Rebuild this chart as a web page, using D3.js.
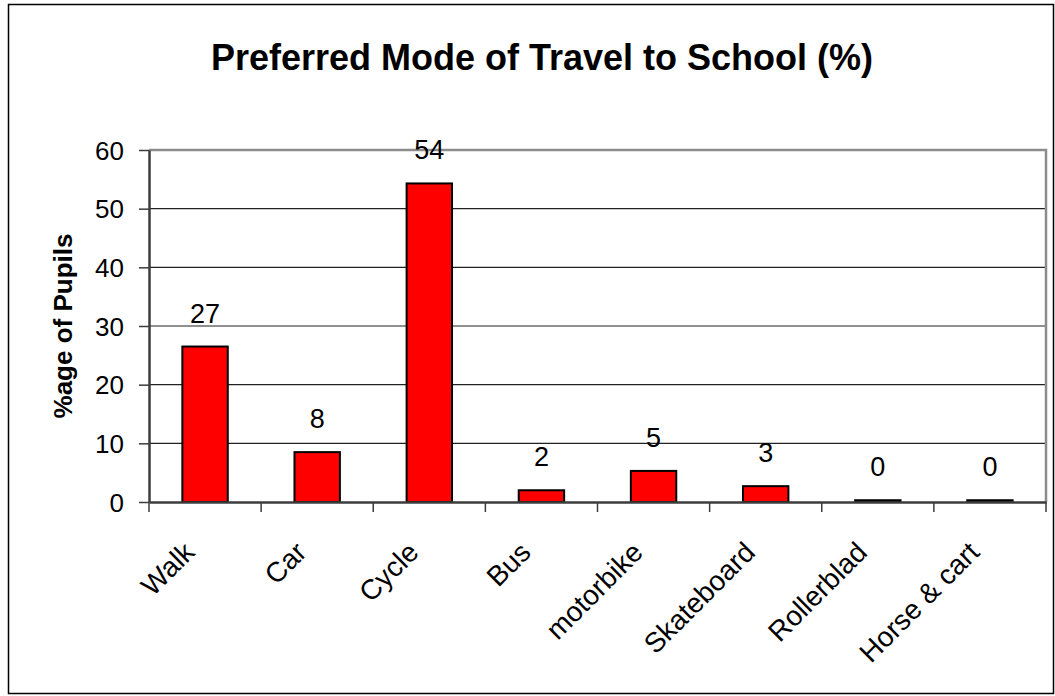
<!DOCTYPE html>
<html>
<head>
<meta charset="utf-8">
<script src="https://cdn.jsdelivr.net/npm/d3@7"></script>
<style>
  body { margin: 0; background: #fff; }
  text { font-family: "Liberation Sans", Arial, sans-serif; fill: #000; }
</style>
</head>
<body>
<script>
const w = 1055;
const h = 696;

const modes = ["Walk", "Car", "Cycle", "Bus", "motorbike", "Skateboard", "Rollerblad", "Horse & cart"];
const pupils = [26.5, 8.5, 54.3, 2, 5.3, 2.7, 0.3, 0.3];
const labels = ["27", "8", "54", "2", "5", "3", "0", "0"];
const yTicks = [0, 10, 20, 30, 40, 50, 60];

const plot = { left: 149, right: 1046, top: 150, bottom: 502 };

const svg = d3.select("body").append("svg")
  .attr("width", w)
  .attr("height", h);

// outer frame
svg.append("rect")
  .attr("x", 8.5).attr("y", 4.5)
  .attr("width", w - 10).attr("height", h - 7)
  .attr("fill", "#fff")
  .attr("stroke", "#000")
  .attr("stroke-width", 1.5);

const x = d3.scaleBand().domain(modes).range([plot.left, plot.right]).padding(0);
const y = d3.scaleLinear().domain([0, 60]).range([plot.bottom, plot.top]);

// gridlines
svg.append("g")
  .selectAll("line")
  .data(yTicks.filter(d => d > 0 && d < 60))
  .enter()
  .append("line")
  .attr("x1", plot.left).attr("x2", plot.right)
  .attr("y1", d => y(d)).attr("y2", d => y(d))
  .attr("stroke", "#222")
  .attr("stroke-width", 1.2);

// plot area top and right edge
svg.append("path")
  .attr("d", `M${plot.left},${y(60)}H${plot.right}V${plot.bottom}`)
  .attr("fill", "none")
  .attr("stroke", "#8c8c8c")
  .attr("stroke-width", 2.5);

// bars
const barW = x.bandwidth() * 0.405;
svg.append("g")
  .selectAll("rect")
  .data(pupils)
  .enter()
  .append("rect")
  .attr("x", (d, i) => x(modes[i]) + (x.bandwidth() - barW) / 2)
  .attr("y", d => y(d))
  .attr("width", barW)
  .attr("height", d => y(0) - y(d))
  .attr("fill", "#ff0000")
  .attr("stroke", "#000")
  .attr("stroke-width", 2);

// data labels
svg.append("g")
  .selectAll("text")
  .data(labels)
  .enter()
  .append("text")
  .attr("x", (d, i) => x(modes[i]) + x.bandwidth() / 2)
  .attr("y", (d, i) => y(pupils[i]) - 24)
  .attr("text-anchor", "middle")
  .style("font-size", "27px")
  .text(d => d);

// y axis
const yAxis = svg.append("g")
  .attr("transform", "translate(" + plot.left + ",0)")
  .call(d3.axisLeft(y).tickValues(yTicks).tickSize(10).tickSizeOuter(0).tickFormat(d3.format("d")));
yAxis.select(".domain").attr("stroke", "#3c3c3c").attr("stroke-width", 2.5);
yAxis.selectAll(".tick line").attr("stroke", "#3c3c3c").attr("stroke-width", 1.5);
yAxis.selectAll(".tick text")
  .attr("x", -25).attr("dy", null).attr("y", 9)
  .attr("text-anchor", "end")
  .style("font-size", "26px")
  .style("font-family", "'Liberation Sans', Arial, sans-serif");

// x axis
const xAxis = svg.append("g")
  .attr("transform", "translate(0," + plot.bottom + ")")
  .call(d3.axisBottom(x).tickSize(0).tickSizeOuter(0));
xAxis.select(".domain").attr("stroke", "#3c3c3c").attr("stroke-width", 2.5);
xAxis.selectAll(".tick text").remove();

// category boundary ticks
svg.append("g")
  .selectAll("line")
  .data(modes.concat(["end"]))
  .enter()
  .append("line")
  .attr("x1", (d, i) => plot.left + i * x.step())
  .attr("x2", (d, i) => plot.left + i * x.step())
  .attr("y1", plot.bottom)
  .attr("y2", plot.bottom + 10)
  .attr("stroke", "#3c3c3c")
  .attr("stroke-width", 1.5);

// rotated category labels
svg.append("g")
  .selectAll("text")
  .data(modes)
  .enter()
  .append("text")
  .attr("transform", d =>
    "translate(" + (x(d) + x.bandwidth() / 2 - 9) + "," + (plot.bottom + 52) + ") rotate(-45)")
  .attr("text-anchor", "end")
  .style("font-size", "28px")
  .text(d => d);

// title
svg.append("text")
  .attr("x", 542)
  .attr("y", 70)
  .attr("text-anchor", "middle")
  .style("font-size", "36px")
  .style("font-weight", "bold")
  .text("Preferred Mode of Travel to School (%)");

// y axis title
svg.append("text")
  .attr("transform", "translate(72," + (plot.top + plot.bottom) / 2 + ") rotate(-90)")
  .attr("text-anchor", "middle")
  .style("font-size", "26px")
  .style("font-weight", "bold")
  .text("%age of Pupils");
</script>
</body>
</html>
